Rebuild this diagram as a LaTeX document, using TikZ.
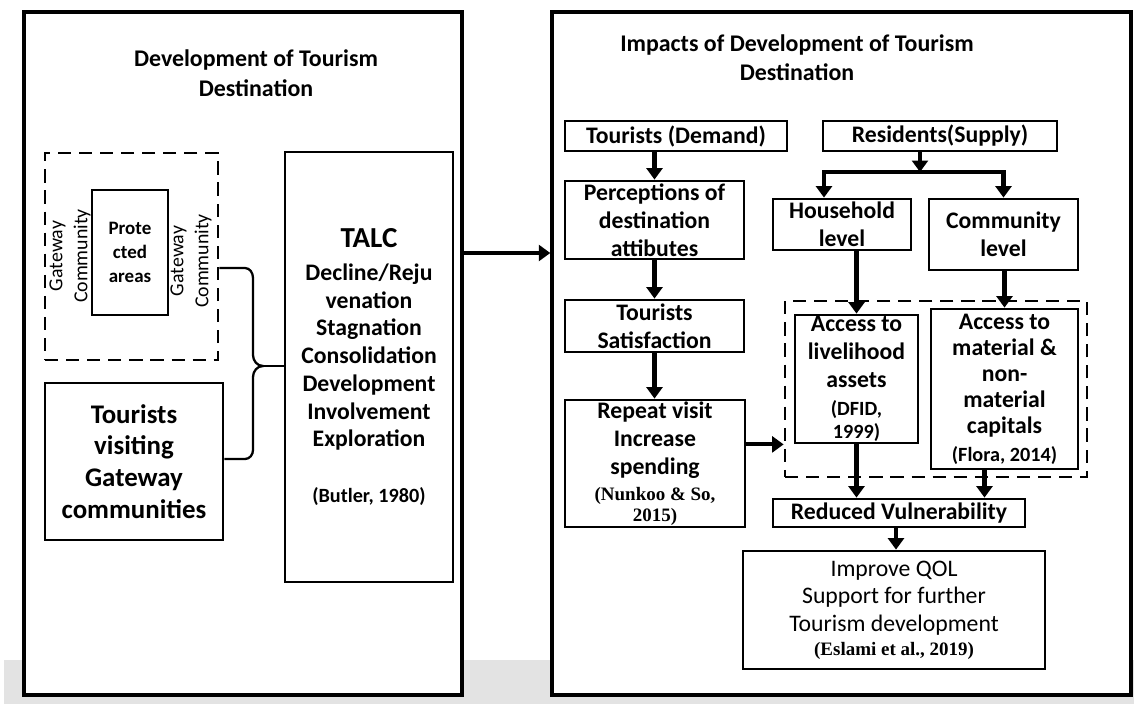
\documentclass[tikz,border=0pt]{standalone}
\usepackage{fontspec}
\setmainfont{Carlito}
\newfontfamily\citefont{Liberation Serif}
\usetikzlibrary{arrows.meta,calc,positioning}
\newcommand{\smref}[1]{{\fontsize{11.5}{13}\selectfont #1}}
\newcommand{\serref}[1]{{\citefont\fontsize{10.8}{13}\selectfont #1}}

\begin{document}
\begin{tikzpicture}[
  x=0.02cm, y=-0.02cm,
  panel/.style={draw, line width=2pt, fill=white, inner sep=0pt},
  box/.style={draw, line width=1.6pt, fill=white, align=center, inner sep=0pt, font=\fontsize{13.5}{15.9}\selectfont\bfseries},
  dbox/.style={draw, line width=1.6pt, dash pattern=on 7.5pt off 4.5pt, inner sep=0pt},
  title/.style={align=center, inner sep=0pt, font=\fontsize{13.6}{16.8}\selectfont\bfseries},
  side/.style={rotate=90, align=center, inner sep=0pt, font=\fontsize{11.3}{14.2}\selectfont},
  arr/.style={-{Triangle[width=9pt,length=6.5pt]}, line width=2.3pt},
  bracel/.style={line width=1.3pt}
]
\useasboundingbox (0,0) rectangle (1134,704);
\fill[black!11] (4,660) rectangle (1134,704);

% the two panels
\node[panel, minimum width=8.76cm, minimum height=13.66cm] (leftpanel) at (243,353.5) {};
\node[panel, minimum width=11.58cm, minimum height=13.66cm] (rightpanel) at (841.5,353.5) {};
\node[title] (lefttitle) at (256,73) {Development of Tourism\\Destination};
\node[title, font=\fontsize{13.6}{16.4}\selectfont\bfseries] (righttitle) at (797,57.5) {Impacts of Development of Tourism\\Destination};

% left panel
\node[dbox, minimum width=3.46cm, minimum height=4.14cm] (gateway) at (131.5,256.5) {};
\node[box, minimum width=1.52cm, minimum height=2.5cm, font=\fontsize{10.8}{13.6}\selectfont\bfseries] (protected) at (130,252.5) {Prote\\cted\\areas};
\node[side] (gwleft) at (70,256) {Gateway\\Community};
\node[side] (gwright) at (191,261) {Gateway\\Community};
\node[box, minimum width=3.56cm, minimum height=3.14cm, font=\fontsize{15.3}{18.1}\selectfont\bfseries] (visitors) at (134,461.5) {Tourists\\visiting\\Gateway\\communities};
\node[box, minimum width=3.36cm, minimum height=8.6cm, font=\fontsize{13.5}{15.8}\selectfont\bfseries] (talc) at (369,367)
  {{\fontsize{16.5}{18}\selectfont TALC}\\[3pt]Decline/Reju\\venation\\Stagnation\\Consolidation\\Development\\Involvement\\Exploration\\[16pt]\smref{(Butler, 1980)}};

% brace
\coordinate (tip) at (263,366);
\draw[bracel] (gateway.east |- 0,268) -- (245,268) to[out=0,in=90] (253,278) -- (253,355) to[out=-90,in=180] (tip)
  to[out=180,in=90] (253,377) -- (253,450) to[out=-90,in=0] (245,459) -- (visitors.east |- 0,459);
\draw[bracel] (tip) -- (talc.west |- tip);

% right panel, tourists side
\node[box, minimum width=4.44cm, minimum height=0.6cm] (demand) at (676,136) {Tourists (Demand)};
\node[box, minimum width=3.58cm, minimum height=1.56cm] (percep) at (654.5,220) {Perceptions of\\destination\\attibutes};
\node[box, minimum width=3.58cm, minimum height=1.04cm] (satisf) at (654.5,326) {Tourists\\Satisfaction};
\node[box, minimum width=3.6cm, minimum height=2.54cm] (repeat) at (655,463.5)
  {Repeat visit\\Increase\\spending\\[-1pt]\serref{\bfseries(Nunkoo \& So,}\\[-4pt]\serref{\bfseries 2015)}};

% right panel, residents side
\node[box, minimum width=4.68cm, minimum height=0.6cm] (supply) at (940,136) {Residents(Supply)};
\node[box, minimum width=2.76cm, minimum height=1.02cm] (household) at (842,224.5) {Household\\level};
\node[box, minimum width=2.98cm, minimum height=1.42cm] (community) at (1003.5,234.5) {Community\\level};
\node[dbox, minimum width=6.04cm, minimum height=3.52cm] (access) at (936,389) {};
\node[box, minimum width=2.46cm, minimum height=2.56cm] (livelihood) at (856.5,379)
  {Access to\\livelihood\\assets\\\smref{(DFID,}\\[-3pt]\smref{1999)}};
\node[box, minimum width=2.94cm, minimum height=3.2cm, font=\fontsize{13.5}{14.8}\selectfont\bfseries] (capitals) at (1004.5,389)
  {Access to\\material \&\\non-\\material\\capitals\\[1pt]\smref{(Flora, 2014)}};
\node[box, minimum width=5.04cm, minimum height=0.56cm] (reduced) at (899,513) {Reduced Vulnerability};
\node[box, minimum width=6.04cm, minimum height=2.36cm, font=\fontsize{13.5}{15.6}\selectfont] (qol) at (894,610)
  {Improve QOL\\Support for further\\Tourism development\\[-2pt]\serref{\bfseries(Eslami et al., 2019)}};

% arrows
\draw[arr] (leftpanel.east |- 0,253) -- (rightpanel.west |- 0,253);
\draw[arr] (percep.north |- demand.south) -- (percep.north);
\draw[arr] (percep.south) -- (satisf.north);
\draw[arr] (satisf.south) -- (satisf.south |- repeat.north);
\draw[arr] (repeat.east |- livelihood.south) -- (access.west |- livelihood.south);
\coordinate (split) at (920,172);
\draw[arr] (split |- supply.south) -- (split);
\draw[arr] (split) -| ($(household.north)+(-18,0)$);
\draw[arr] (split) -| (community.north);
\draw[arr] (livelihood.north |- household.south) -- (livelihood.north);
\draw[arr] (capitals.north |- community.south) -- (capitals.north);
\draw[arr] (livelihood.south) -- (livelihood.south |- reduced.north);
\coordinate (capout) at ($(capitals.south)+(-20,0)$);
\draw[arr] (capout) -- (capout |- reduced.north);
\draw[arr] ($(reduced.south)+(-3,0)$) -- ($(reduced.south |- qol.north)+(-3,0)$);
\end{tikzpicture}
\end{document}
